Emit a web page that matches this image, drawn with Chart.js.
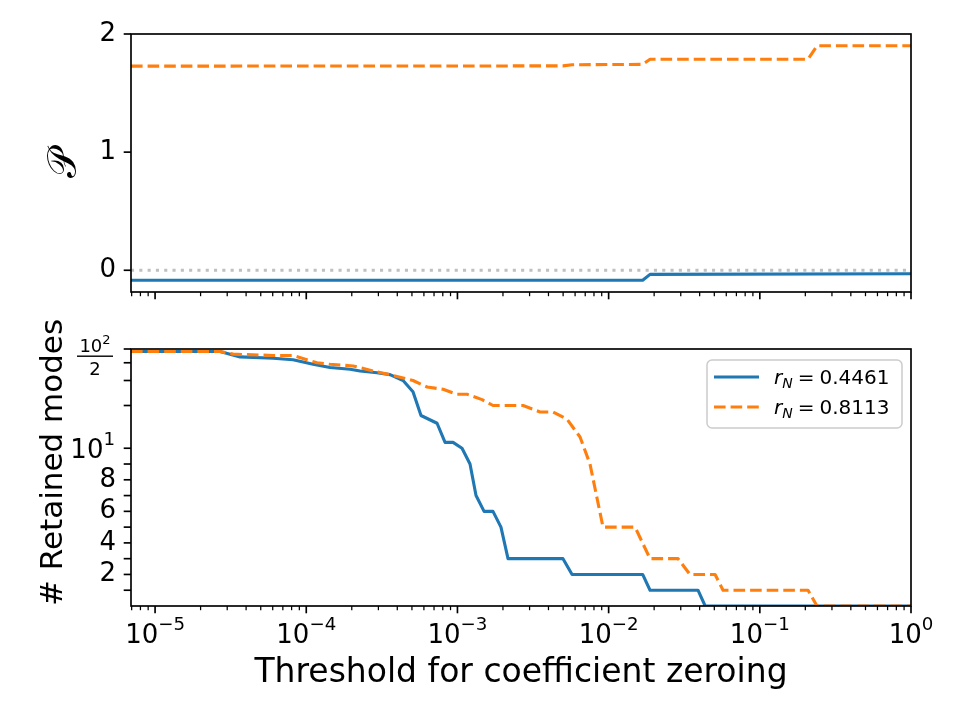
<!DOCTYPE html>
<html>
<head>
<meta charset="utf-8">
<script src="https://cdn.jsdelivr.net/npm/chart.js@4.4.1/dist/chart.umd.min.js"></script>
<style>
  html, body { margin: 0; padding: 0; background: #ffffff; }
  #wrap { position: relative; width: 960px; height: 720px; overflow: hidden; background: #fff; }
  #c1 { position: absolute; left: 0; top: 0; }
  #c2 { position: absolute; left: 0; top: 310px; }
</style>
</head>
<body>
<div id="wrap">
  <canvas id="c1" width="960" height="332"></canvas>
  <canvas id="c2" width="960" height="410"></canvas>
</div>
<script>
// ---------------- data ----------------
const X_MIN = 6.93e-6;
const X_MAX = 1;
const xTickValues = [1e-5, 1e-4, 1e-3, 1e-2, 1e-1, 1];
const xTickLabels = ['10^-5', '10^-4', '10^-3', '10^-2', '10^-1', '10^0'];
const xAxisTitle = 'Threshold for coefficient zeroing';

const P_MIN = -0.184;
const P_MAX = 2.0;
const pTickValues = [0, 1, 2];
const pTickLabels = ['0', '1', '2'];
const pAxisTitle = '\u{1D4AB}';

const seriesNames = ['r_N = 0.4461', 'r_N = 0.8113'];

// top panel: P vs threshold
const thrPBlue = [6.93e-6, 1.679e-2, 1.879e-2, 1];
const pBlue    = [-0.085, -0.085, -0.035, -0.030];
const thrPOrange = [6.93e-6, 4.99e-3, 5.73e-3, 1.679e-2, 1.879e-2, 0.2084, 0.2388, 1];
const pOrange    = [1.728, 1.730, 1.740, 1.743, 1.786, 1.786, 1.900, 1.900];
const zeroLineX = [X_MIN, X_MAX];
const zeroLineY = [0, 0];

// bottom panel: retained modes vs threshold
const thrModesBlue = [6.93e-6, 2.69e-5, 3.65e-5, 6.03e-5, 8.18e-5, 1.109e-4, 1.436e-4, 1.95e-4,
  2.27e-4, 2.94e-4, 3.58e-4, 4.37e-4, 5.08e-4, 5.74e-4, 7.33e-4, 8.28e-4, 9.35e-4, 1.072e-3,
  1.211e-3, 1.327e-3, 1.50e-3, 1.718e-3, 1.94e-3, 2.16e-3, 4.99e-3, 5.73e-3, 1.679e-2,
  1.879e-2, 3.90e-2, 4.35e-2, 1];
const modesBlue = [48, 48, 44, 43, 42, 39, 37, 36,
  35, 34, 33, 30, 25, 17, 15, 11, 11, 10,
  9, 7, 6, 6, 5, 3, 3, 2, 2,
  1, 1, 0, 0];
const thrModesOrange = [6.93e-6, 2.69e-5, 3.28e-5, 6.03e-5, 8.18e-5, 1.178e-4, 1.436e-4, 2.04e-4,
  2.77e-4, 3.58e-4, 5.08e-4, 6.30e-4, 8.04e-4, 9.93e-4, 1.156e-3, 1.455e-3, 1.718e-3, 2.72e-3,
  3.52e-3, 4.29e-3, 5.31e-3, 6.47e-3, 7.53e-3, 9.18e-3, 1.496e-2, 1.879e-2, 2.88e-2, 3.45e-2,
  5.06e-2, 5.71e-2, 0.2084, 0.2388, 1];
const modesOrange = [48, 48, 46, 45, 45, 40, 39, 38,
  35, 33, 30, 27, 26, 24, 24, 22, 20, 20,
  18, 18, 16, 12, 9, 5, 5, 3, 3, 2,
  2, 1, 1, 0, 0];

const MODES_MIN = 0;
const MODES_MAX = 50;
const modesTickValues = [1, 2, 3, 4, 5, 6, 7, 8, 9, 10, 20, 30, 40, 50];
const modesTickLabels = ['', '2', '', '4', '', '6', '', '8', '', '10^1', '', '', '', '10^2/2'];
const modesAxisTitle = '# Retained modes';

// ---------------- styling ----------------
const BLUE = '#1f77b4';
const ORANGE = '#ff7f0e';
const GREY = '#c0c0c0';
const FONT = '"DejaVu Sans", "DejaVu Serif", "Noto Sans", sans-serif';
const TICK_PX = 26;
const LABEL_PX = 33;
const YLABEL_PX = 31;
const LW = 3.1;

function pts(xs, ys) { return xs.map((x, i) => ({ x: x, y: ys[i] })); }

function logTickValues(min, max) {
  const out = [];
  for (let e = Math.floor(Math.log10(min)); e <= Math.ceil(Math.log10(max)); e++) {
    for (let m = 1; m <= 9; m++) {
      const v = m * Math.pow(10, e);
      if (v >= min * 0.9999 && v <= max * 1.0001) out.push(v);
    }
  }
  return out;
}
function isMinorLog(v) { const e = Math.log10(v); return Math.abs(e - Math.round(e)) > 1e-6; }

// ---------------- symlog scale (linthresh = 10) ----------------
const LINTHRESH = 10;
const LINK = 1 / (1 - 1 / 10);
class SymlogScale extends Chart.LinearScale {
  static id = 'symlog';
  static defaults = {};
  _fwd(v) {
    const a = Math.abs(v);
    return a <= LINTHRESH ? v * LINK : Math.sign(v) * LINTHRESH * (LINK + Math.log10(a / LINTHRESH));
  }
  _inv(t) {
    const a = Math.abs(t);
    return a <= LINTHRESH * LINK ? t / LINK : Math.sign(t) * LINTHRESH * Math.pow(10, a / LINTHRESH - LINK);
  }
  buildTicks() { return []; }
  getPixelForValue(value) {
    if (value === null || value === undefined || isNaN(value)) return NaN;
    const t0 = this._fwd(this.min), t1 = this._fwd(this.max);
    return this.getPixelForDecimal((this._fwd(value) - t0) / (t1 - t0));
  }
  getValueForPixel(pixel) {
    const t0 = this._fwd(this.min), t1 = this._fwd(this.max);
    return this._inv(t0 + this.getDecimalForPixel(pixel) * (t1 - t0));
  }
}
Chart.register(SymlogScale);

// ---------------- text helpers ----------------
function drawSup(ctx, x, baseline, base, exp, size, align) {
  const sup = size * 0.7;
  ctx.font = size + 'px ' + FONT; const wb = ctx.measureText(base).width;
  ctx.font = sup + 'px ' + FONT; const we = ctx.measureText(exp).width;
  const total = wb + we;
  const x0 = align === 'center' ? x - total / 2 : (align === 'right' ? x - total : x);
  ctx.textAlign = 'left'; ctx.textBaseline = 'alphabetic'; ctx.fillStyle = '#000';
  ctx.font = size + 'px ' + FONT; ctx.fillText(base, x0, baseline);
  ctx.font = sup + 'px ' + FONT; ctx.fillText(exp, x0 + wb, baseline - size * 0.5);
}
function splitPow(label) {
  const parts = label.split('^');
  return { base: parts[0], exp: (parts[1] || '').replace('-', '\u2212') };
}
function drawFrac(ctx, xr, y, numLabel, den) {
  const n = splitPow(numLabel);
  const size = 18, sup = 13, barW = 36;
  ctx.font = size + 'px ' + FONT; const wb = ctx.measureText(n.base).width;
  ctx.font = sup + 'px ' + FONT; const we = ctx.measureText(n.exp).width;
  const cx = xr - barW / 2;
  const nx = cx - (wb + we) / 2;
  ctx.fillStyle = '#000'; ctx.textAlign = 'left'; ctx.textBaseline = 'alphabetic';
  ctx.font = size + 'px ' + FONT; ctx.fillText(n.base, nx, y + 3);
  ctx.font = sup + 'px ' + FONT; ctx.fillText(n.exp, nx + wb, y + 3 - 8);
  ctx.fillRect(xr - barW, y + 6.5, barW, 1.4);
  ctx.textAlign = 'center';
  ctx.font = size + 'px ' + FONT; ctx.fillText(den, cx, y + 26);
}

// ---------------- axes decoration plugin ----------------
function axesPlugin(extra) {
  return {
    id: 'mplAxes',
    afterDraw(chart) {
      const ctx = chart.ctx, a = chart.chartArea;
      const xs = chart.scales.x, ys = chart.scales.y;
      ctx.save();
      ctx.setLineDash([]);
      ctx.strokeStyle = '#000';
      xs.ticks.forEach(t => {
        const p = xs.getPixelForValue(t.value);
        const minor = isMinorLog(t.value);
        ctx.lineWidth = minor ? 1.25 : 1.67;
        ctx.beginPath(); ctx.moveTo(p, a.bottom); ctx.lineTo(p, a.bottom + (minor ? 4.2 : 7.3)); ctx.stroke();
      });
      ys.ticks.forEach(t => {
        const p = ys.getPixelForValue(t.value);
        ctx.lineWidth = 1.67;
        ctx.beginPath(); ctx.moveTo(a.left, p); ctx.lineTo(a.left - 7.3, p); ctx.stroke();
      });
      ctx.lineWidth = 1.67;
      ctx.strokeRect(a.left, a.top, a.right - a.left, a.bottom - a.top);
      if (extra) extra(chart, ctx, a);
      ctx.restore();
    }
  };
}

function drawLegend(chart, ctx, a) {
  const bw = 195, bh = 68;
  const x0 = a.right - 9 - bw, y0 = a.top + 11;
  ctx.save();
  ctx.beginPath();
  if (ctx.roundRect) ctx.roundRect(x0, y0, bw, bh, 5); else ctx.rect(x0, y0, bw, bh);
  ctx.fillStyle = 'rgba(255,255,255,0.8)';
  ctx.fill();
  ctx.strokeStyle = '#cccccc'; ctx.lineWidth = 1.5; ctx.stroke();
  const items = chart.data.datasets.filter(d => seriesNames.includes(d.label));
  items.forEach((ds, i) => {
    const yc = y0 + 17 + i * 30;
    ctx.strokeStyle = ds.borderColor; ctx.lineWidth = ds.borderWidth;
    ctx.setLineDash(ds.borderDash || []); ctx.lineCap = 'butt';
    ctx.beginPath(); ctx.moveTo(x0 + 7, yc); ctx.lineTo(x0 + 52, yc); ctx.stroke();
    ctx.setLineDash([]);
    const sides = ds.label.split(' = ');
    const sym = sides[0].split('_');
    const base = yc + 7;
    let cx = x0 + 67;
    ctx.fillStyle = '#000'; ctx.textAlign = 'left'; ctx.textBaseline = 'alphabetic';
    ctx.font = 'italic 20px ' + FONT; ctx.fillText(sym[0], cx, base); cx += ctx.measureText(sym[0]).width;
    ctx.font = 'italic 14px ' + FONT; ctx.fillText(sym[1], cx, base + 4); cx += ctx.measureText(sym[1]).width + 5;
    ctx.font = '20px ' + FONT; ctx.fillText('=', cx, base); cx += ctx.measureText('=').width + 5;
    ctx.fillText(sides[1], cx, base);
  });
  ctx.restore();
}

function bottomExtras(chart, ctx, a) {
  const xs = chart.scales.x, ys = chart.scales.y;
  xTickValues.forEach((v, i) => {
    const p = splitPow(xTickLabels[i]);
    drawSup(ctx, xs.getPixelForValue(v), a.bottom + 37, p.base, p.exp, TICK_PX, 'center');
  });
  modesTickValues.forEach((v, i) => {
    const lab = modesTickLabels[i];
    if (lab.indexOf('^') < 0) return;
    const y = ys.getPixelForValue(v);
    if (lab.indexOf('/') >= 0) {
      const fr = lab.split('/');
      drawFrac(ctx, a.left - 18, y, fr[0], fr[1]);
    } else {
      const p = splitPow(lab);
      drawSup(ctx, a.left - 16, y + 10, p.base, p.exp, TICK_PX, 'right');
    }
  });
  // y-axis title (rotated), placed like the reference
  ctx.save();
  ctx.translate(62, (a.top + a.bottom) / 2 - 15);
  ctx.rotate(-Math.PI / 2);
  ctx.fillStyle = '#000'; ctx.textAlign = 'center'; ctx.textBaseline = 'alphabetic';
  ctx.font = YLABEL_PX + 'px ' + FONT;
  ctx.fillText(modesAxisTitle, 0, 0);
  ctx.restore();
  drawLegend(chart, ctx, a);
}

function baseOptions() {
  return {
    responsive: false, animation: false, events: [],
    plugins: { legend: { display: false }, tooltip: { enabled: false } },
    elements: { point: { radius: 0 }, line: { tension: 0, borderCapStyle: 'butt', borderJoinStyle: 'round' } },
  };
}

// ---------------- top chart ----------------
const opt1 = baseOptions();
opt1.layout = { padding: { left: 0, right: 49, top: 34, bottom: 0 } };
opt1.scales = {
  x: {
    type: 'logarithmic', min: X_MIN, max: X_MAX, bounds: 'data',
    grid: { display: false, drawTicks: false }, border: { display: false },
    ticks: { display: false, autoSkip: false },
    afterBuildTicks: s => { s.ticks = logTickValues(X_MIN, X_MAX).map(v => ({ value: v })); },
    afterFit: s => { s.height = 40; }
  },
  y: {
    type: 'linear', min: P_MIN, max: P_MAX,
    grid: { display: false, drawTicks: false }, border: { display: false },
    ticks: { autoSkip: false, color: '#000', padding: 15, font: { family: FONT, size: TICK_PX },
             callback: (v, i) => pTickLabels[i] },
    afterBuildTicks: s => { s.ticks = pTickValues.map(v => ({ value: v })); },
    title: { display: true, text: pAxisTitle, color: '#000', font: { family: FONT, size: 40 },
             padding: { top: 42, bottom: 0 } },
    afterFit: s => { s.width = 131; }
  }
};
new Chart(document.getElementById('c1'), {
  type: 'line',
  data: { datasets: [
    { label: 'zero', data: pts(zeroLineX, zeroLineY), borderColor: GREY, borderWidth: LW, borderDash: [3.1, 5.2], order: 2, clip: 0 },
    { label: seriesNames[0], data: pts(thrPBlue, pBlue), borderColor: BLUE, borderWidth: LW, order: 1, clip: 0 },
    { label: seriesNames[1], data: pts(thrPOrange, pOrange), borderColor: ORANGE, borderWidth: LW, borderDash: [11.6, 5], order: 0, clip: 0 }
  ] },
  options: opt1,
  plugins: [axesPlugin(null)]
});

// ---------------- bottom chart ----------------
const opt2 = baseOptions();
opt2.layout = { padding: { left: 0, right: 49, top: 39, bottom: 0 } };
opt2.scales = {
  x: {
    type: 'logarithmic', min: X_MIN, max: X_MAX, bounds: 'data',
    grid: { display: false, drawTicks: false }, border: { display: false },
    ticks: { display: false, autoSkip: false },
    afterBuildTicks: s => { s.ticks = logTickValues(X_MIN, X_MAX).map(v => ({ value: v })); },
    title: { display: true, text: xAxisTitle, color: '#000', font: { family: FONT, size: LABEL_PX },
             padding: { top: 0, bottom: 27 } },
    afterFit: s => { s.height = 114; }
  },
  y: {
    type: 'symlog', min: MODES_MIN, max: MODES_MAX,
    grid: { display: false, drawTicks: false }, border: { display: false },
    ticks: { autoSkip: false, color: '#000', padding: 15, font: { family: FONT, size: TICK_PX },
             callback: (v, i) => (modesTickLabels[i].indexOf('^') < 0 ? modesTickLabels[i] : '') },
    afterBuildTicks: s => { s.ticks = modesTickValues.map(v => ({ value: v })); },
    title: { display: false },
    afterFit: s => { s.width = 131; }
  }
};
new Chart(document.getElementById('c2'), {
  type: 'line',
  data: { datasets: [
    { label: seriesNames[0], data: pts(thrModesBlue, modesBlue), borderColor: BLUE, borderWidth: LW, order: 1, clip: 0 },
    { label: seriesNames[1], data: pts(thrModesOrange, modesOrange), borderColor: ORANGE, borderWidth: LW, borderDash: [11.6, 5], order: 0, clip: 0 }
  ] },
  options: opt2,
  plugins: [axesPlugin(bottomExtras)]
});
</script>
</body>
</html>
